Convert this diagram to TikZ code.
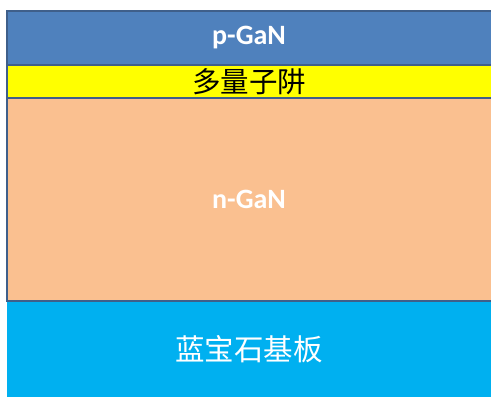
\documentclass[tikz,border=0pt]{standalone}
\usepackage{fontspec}
\setmainfont{Carlito}
\newfontfamily\cjk{Noto Sans CJK SC}
\definecolor{pblue}{HTML}{4F81BD}
\definecolor{mqw}{HTML}{FFFF00}
\definecolor{ngan}{HTML}{FAC090}
\definecolor{sapph}{HTML}{00B0F0}
\definecolor{edge}{HTML}{3F5F8A}
\tikzset{
  layer/.style={inner sep=0pt, outer sep=0pt, minimum width=484pt, anchor=north west},
  latin/.style={text=white, font=\fontsize{28}{32}\selectfont\bfseries},
  hanzi/.style={font=\cjk\fontsize{28.5}{33}\selectfont},
  sep/.style={draw=edge, line width=2pt}
}
\begin{document}
\begin{tikzpicture}[x=1pt,y=-1pt]
\useasboundingbox (0,0) rectangle (491,397);
\node[layer, fill=pblue, minimum height=54pt, latin] (p) at (7,11) {p-GaN};
\node[layer, fill=mqw, minimum height=33pt, hanzi, text=black] (q) at (7,65) {多量子阱};
\node[layer, fill=ngan, minimum height=203pt, latin] (n) at (7,98) {n-GaN};
\node[layer, fill=sapph, minimum height=96pt, hanzi, text=white, font=\cjk\fontsize{29.5}{34}\selectfont] (s) at (7,301) {蓝宝石基板};
\draw[sep] (p.north east) -- (p.north west) -- (n.south west) -- (n.south east);
\draw[sep] (p.south west) -- (p.south east);
\draw[sep] (q.south west) -- (q.south east);
\end{tikzpicture}
\end{document}
